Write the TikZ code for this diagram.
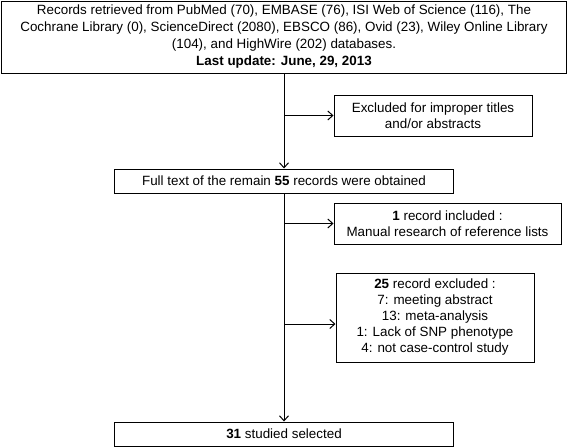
\documentclass[tikz,border=0pt]{standalone}
\usepackage{fontspec}
\setmainfont{Liberation Sans}
\usetikzlibrary{arrows.meta, positioning}

\begin{document}
\begin{tikzpicture}[x=1pt,y=-1pt,line width=1pt,
    >={Straight Barb[length=5pt,width=9pt]},
    box/.style={draw,align=center,inner sep=0pt,font=\fontsize{13.4}{16}\selectfont}]
  \useasboundingbox (0,0) rectangle (568,447);

  \node[box,minimum width=565pt,minimum height=72pt,font=\fontsize{13.4}{17}\selectfont] (records) at (284,37)
    {Records retrieved from PubMed (70), EMBASE (76), ISI Web of Science (116), The\\
     Cochrane Library (0), ScienceDirect (2080), EBSCO (86), Ovid (23), Wiley Online Library\\
     (104), and HighWire (202) databases.\\
     \textbf{Last update: June, 29, 2013}};
  \node[box,minimum width=198pt,minimum height=41pt] (excl) at (433,115.5)
    {Excluded for improper titles\\ and/or abstracts};
  \node[box,minimum width=339pt,minimum height=24pt] (full) at (284,181)
    {Full text of the remain \textbf{55} records were obtained};
  \node[box,minimum width=227pt,minimum height=41pt] (incl) at (447.5,223.5)
    {\textbf{1} record included :\\ Manual research of reference lists};
  \node[box,minimum width=198pt,minimum height=89pt] (excl2) at (435,317.5)
    {\textbf{25} record excluded :\\ 7: meeting abstract\\ 13: meta-analysis\\
     1: Lack of SNP phenotype\\ 4: not case-control study};
  \node[box,minimum width=339pt,minimum height=24pt] (final) at (284,434)
    {\textbf{31} studied selected};

  \draw[->] (records.south) -- (full.north);
  \draw[->] (full.south) -- (final.north);
  \draw[->] (excl.west -| records.south) -- (excl.west);
  \draw[->] (incl.west -| full.south) -- (incl.west);
  \draw[->] ([yshift=-6.5pt]excl2.west -| full.south) -- ([yshift=-6.5pt]excl2.west);
\end{tikzpicture}
\end{document}
